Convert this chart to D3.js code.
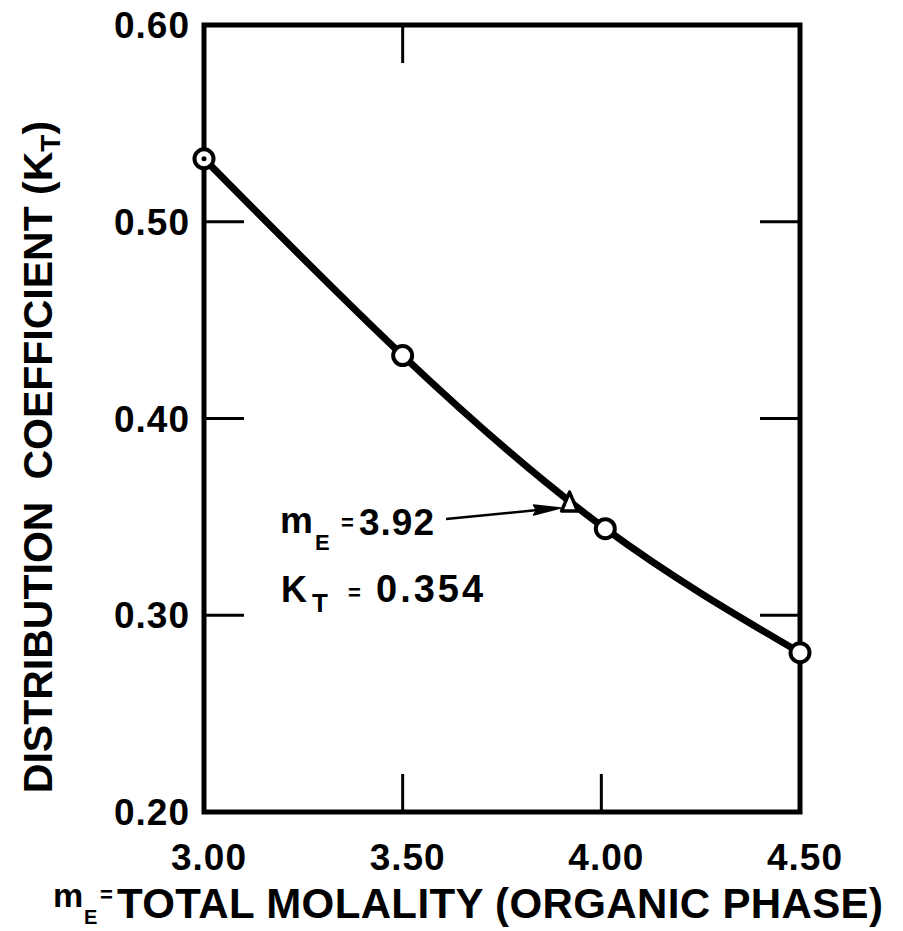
<!DOCTYPE html>
<html>
<head>
<meta charset="utf-8">
<script src="https://cdn.jsdelivr.net/npm/d3@7"></script>
<style>
  html, body { margin: 0; padding: 0; background: #fff; }
  svg { display: block; }
  text { font-family: "Liberation Sans", Arial, sans-serif; font-weight: 700; fill: #000; }
</style>
</head>
<body>
<svg id="chart" width="903" height="931"></svg>
<script>
// ---- data ----
const molality = [3.00, 3.50, 4.01, 4.50];
const distCoef = [0.532, 0.432, 0.344, 0.281];
const markerKind = ["dot", "open", "open", "open"];
const interpX = 3.92;
const interpY = 0.357;
const xTickValues = [3.00, 3.50, 4.00, 4.50];
const xTickLabels = ["3.00", "3.50", "4.00", "4.50"];
const yTickValues = [0.20, 0.30, 0.40, 0.50, 0.60];
const yTickLabels = ["0.20", "0.30", "0.40", "0.50", "0.60"];
const xInnerTicksBottom = [3.50, 4.00];
const xInnerTicksTop = [3.50];
const yInnerTicks = [0.30, 0.40, 0.50];

const svg = d3.select("#chart");
const L = 204, R = 800, T = 25, B = 812;
const x = d3.scaleLinear().domain([3.0, 4.5]).range([L, R]);
const y = d3.scaleLinear().domain([0.2, 0.6]).range([B, T]);

// frame
svg.append("rect").attr("x", L).attr("y", T).attr("width", R - L).attr("height", B - T)
  .attr("fill", "none").attr("stroke", "#000").attr("stroke-width", 5);

// inner ticks
const tk = svg.append("g").attr("stroke", "#000").attr("stroke-width", 3);
yInnerTicks.forEach(v => {
  tk.append("line").attr("x1", L).attr("x2", L + 40).attr("y1", y(v)).attr("y2", y(v));
  tk.append("line").attr("x1", R).attr("x2", R - 40).attr("y1", y(v)).attr("y2", y(v));
});
xInnerTicksBottom.forEach(v => {
  tk.append("line").attr("x1", x(v)).attr("x2", x(v)).attr("y1", B).attr("y2", B - 38);
});
xInnerTicksTop.forEach(v => {
  tk.append("line").attr("x1", x(v)).attr("x2", x(v)).attr("y1", T).attr("y2", T + 38);
});

// tick labels
yTickValues.forEach((v, i) => {
  svg.append("text").attr("x", 190).attr("y", y(v) + 13).attr("text-anchor", "end")
    .attr("font-size", 37).attr("letter-spacing", 1).text(yTickLabels[i]);
});
xTickValues.forEach((v, i) => {
  svg.append("text").attr("x", x(v) + 5).attr("y", 870).attr("text-anchor", "middle")
    .attr("font-size", 37).attr("letter-spacing", 1).text(xTickLabels[i]);
});

// y title
const yt = svg.append("text").attr("transform", "translate(52,457) rotate(-90)")
  .attr("text-anchor", "middle").attr("font-size", 41);
yt.append("tspan").text("DISTRIBUTION");
yt.append("tspan").attr("dx", 22).text("COEFFICIENT (K");
yt.append("tspan").attr("font-size", 28).attr("dy", 8).text("T");
yt.append("tspan").attr("dy", -8).text(")");

// x title
svg.append("text").attr("x", 53).attr("y", 907).attr("font-size", 34).text("m");
svg.append("text").attr("x", 84).attr("y", 924).attr("font-size", 20).text("E");
svg.append("text").attr("x", 100).attr("y", 902).attr("font-size", 22).text("=");
svg.append("text").attr("x", 117).attr("y", 918).attr("font-size", 42)
  .attr("textLength", 766).attr("lengthAdjust", "spacing")
  .text("TOTAL  MOLALITY  (ORGANIC  PHASE)");

// curve
const pts = molality.map((m, i) => [x(m), y(distCoef[i])]);
svg.append("path").attr("d", d3.line().curve(d3.curveNatural)(pts))
  .attr("fill", "none").attr("stroke", "#000").attr("stroke-width", 7).attr("stroke-linecap", "round");

// annotation arrow
const tx = x(interpX), ty = y(interpY);
svg.append("line").attr("x1", 446).attr("y1", 519).attr("x2", tx - 32).attr("y2", ty + 7)
  .attr("stroke", "#000").attr("stroke-width", 2.5);
svg.append("path")
  .attr("d", `M${tx - 9},${ty + 5} L${tx - 36},${ty + 2} L${tx - 33},${ty + 7} L${tx - 36},${ty + 12} Z`)
  .attr("fill", "#000").attr("stroke", "#000").attr("stroke-width", 1.5).attr("stroke-linejoin", "round");

// triangle marker
svg.append("path").attr("d", `M${tx},${ty - 11} L${tx + 8},${ty + 8} L${tx - 8},${ty + 8} Z`)
  .attr("fill", "#fff").attr("stroke", "#000").attr("stroke-width", 3.5).attr("stroke-linejoin", "round");

// circle markers
pts.forEach((p, i) => {
  svg.append("circle").attr("cx", p[0]).attr("cy", p[1]).attr("r", 9.5)
    .attr("fill", "#fff").attr("stroke", "#000").attr("stroke-width", 4);
  if (markerKind[i] === "dot") {
    svg.append("circle").attr("cx", p[0]).attr("cy", p[1]).attr("r", 2.5).attr("fill", "#000");
  }
});

// annotation text
svg.append("text").attr("x", 280).attr("y", 533).attr("font-size", 37).text("m");
svg.append("text").attr("x", 315).attr("y", 550).attr("font-size", 22).text("E");
svg.append("text").attr("x", 341).attr("y", 530).attr("font-size", 22).text("=");
svg.append("text").attr("x", 359).attr("y", 535).attr("font-size", 37).attr("letter-spacing", 1).text("3.92");
svg.append("text").attr("x", 281).attr("y", 602).attr("font-size", 36).text("K");
svg.append("text").attr("x", 312).attr("y", 612).attr("font-size", 26).text("T");
svg.append("text").attr("x", 348).attr("y", 600).attr("font-size", 22).text("=");
svg.append("text").attr("x", 376).attr("y", 602).attr("font-size", 38).attr("letter-spacing", 3).text("0.354");
</script>
</body>
</html>
